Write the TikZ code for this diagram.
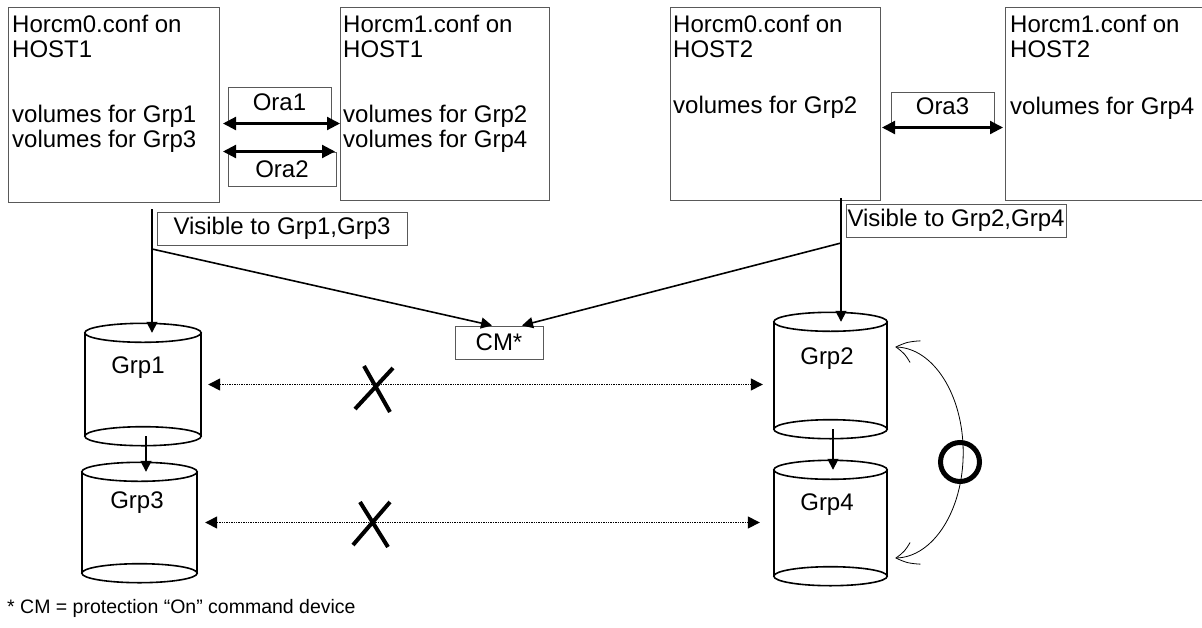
\documentclass[tikz,border=0pt]{standalone}
\usepackage{fontspec}
\setmainfont{Liberation Sans}
\usetikzlibrary{arrows.meta,calc,bending}
\newcommand\mfs{\fontsize{24pt}{25.5pt}\selectfont}
\begin{document}
\begin{tikzpicture}[x=1pt,y=-1pt,
 hostbox/.style={draw=black!65,line width=1pt,inner sep=0pt,anchor=north west,minimum width=211pt},
 hosttext/.style={anchor=north west,inner sep=0pt,align=left,font=\mfs},
 lblbox/.style={draw=black!65,line width=1pt,inner sep=0pt,font=\mfs},
 cylbody/.style={inner sep=0pt},
 cyl/.style={line width=1.6pt},
 grplbl/.style={anchor=base,font=\mfs},
 arr/.style={-{Triangle[length=11pt,width=11pt]},line width=1.6pt},
 biarr/.style={{Triangle[length=13pt,width=13pt]}-{Triangle[length=13pt,width=13pt]},line width=2.2pt},
 dotarr/.style={{Triangle[length=12pt,width=12pt]}-{Triangle[length=12pt,width=12pt]},line width=1.4pt,dash pattern=on 1.4pt off 1pt},
 cross/.style={line width=4pt},
 ring/.style={line width=5pt},
 swing/.style={{Straight Barb[bend,length=20pt,width=24pt]}-{Straight Barb[bend,length=20pt,width=24pt]},line width=0.8pt}
]
\useasboundingbox (0,0) rectangle (1202,627);

% host boxes
\node[hostbox,minimum height=195pt] (b1) at (8,7) {};
\node[hostbox,minimum height=193pt,minimum width=209pt] (b2) at (340,7) {};
\node[hostbox,minimum height=193pt,minimum width=210pt] (b3) at (670,7) {};
\node[hostbox,minimum height=193pt] (b4) at (1005,7) {};

\node[hosttext] (t1) at ($(b1.north west)+(4,7.5)$) {Horcm0.conf on\\HOST1\\[39pt]volumes for Grp1\\volumes for Grp3};
\node[hosttext] (t2) at ($(b2.north west)+(3,7.5)$) {Horcm1.conf on\\HOST1\\[39pt]volumes for Grp2\\volumes for Grp4};
\node[hosttext] (t3) at ($(b3.north west)+(3,7.5)$) {Horcm0.conf on\\HOST2\\[30pt]volumes for Grp2};
\node[hosttext] (t4) at ($(b4.north west)+(5,7.5)$) {Horcm1.conf on\\HOST2\\[31pt]volumes for Grp4};

% label boxes
\node[lblbox,minimum width=103pt,minimum height=36pt,text depth=6pt] (ora1) at (279.5,105) {Ora1};
\node[lblbox,minimum width=108pt,minimum height=34pt] (ora2) at (282,169) {Ora2};
\node[lblbox,minimum width=103pt,minimum height=35pt,text depth=6pt] (ora3) at (942.5,109.5) {Ora3};
\node[lblbox,minimum width=250pt,minimum height=33pt] (vis1) at (282,228.5) {Visible to Grp1,Grp3};
\node[lblbox,minimum width=220pt,minimum height=33pt] (vis2) at (956,220.5) {Visible to Grp2,Grp4};
\node[lblbox,minimum width=88pt,minimum height=33pt] (cm) at (499,342.5) {CM*};

% cylinders
\node[cylbody,minimum width=116pt,minimum height=103pt] (g1) at (143,384.5) {};
\node[cylbody,minimum width=113pt,minimum height=107pt] (g2) at (830.5,375.5) {};
\node[cylbody,minimum width=115pt,minimum height=101pt] (g3) at (139.5,522.5) {};
\node[cylbody,minimum width=113pt,minimum height=106pt] (g4) at (830.5,523) {};
\foreach \g in {g1,g2,g3,g4}{
  \draw[cyl] (\g.north west) -- (\g.south west) (\g.north east) -- (\g.south east);
  \draw[cyl] let \p1=(\g.east), \p2=(\g.center) in
    (\g.north) ellipse[x radius={\x1-\x2}, y radius=9.5pt]
    (\g.south) ellipse[x radius={\x1-\x2}, y radius=9.5pt];
}
\node[grplbl] (l1) at (138,373) {Grp1};
\node[grplbl] (l2) at (827,364) {Grp2};
\node[grplbl] (l3) at (137,508) {Grp3};
\node[grplbl] (l4) at (827,510) {Grp4};

% Ora arrows
\draw[biarr] ($(b1.east |- ora1.south)+(3,0)$) -- (b2.west |- ora1.south);
\draw[biarr] ($(b1.east |- ora2.north)+(3,0)$) -- ($(b2.west |- ora2.north)+(-5,0)$);
\draw[biarr] ($(b3.east |- ora3.south)+(1,0)$) -- ($(b4.west |- ora3.south)+(-2,0)$);

% visibility connectors
\coordinate (v1) at (152,209);
\coordinate (j1) at (152,249);
\coordinate (v2) at (841,198);
\coordinate (j2) at (841,243);
\draw[arr] (v1) -- (v1 |- g1.north);
\draw[arr] (j1) -- ($(cm.north)+(-7,0)$);
\draw[arr] (v2) -- (v2 |- g2.north);
\draw[arr] (j2) -- ($(cm.north)+(23,0)$);

% group arrows
\draw[arr] ($(g1.south)+(3,0)$) -- ($(g3.north)+(6.5,0)$);
\draw[arr] ($(g2.south)+(2.5,0)$) -- ($(g4.north)+(2.5,0)$);

% dotted pair links
\draw[dotarr] ($(g1.east)+(7,0)$) -- ($(g2.west |- g1.east)+(-11,0)$);
\draw[dotarr] ($(g3.east)+(8,0)$) -- ($(g4.west |- g3.east)+(-14,0)$);

% crosses
\draw[cross] (364,366) -- (390,412) (355,409) -- (393,368);
\draw[cross] (360,502) -- (388,547) (353,545) -- (390,502);

% allowed link
\draw[swing] ($(g2.east)+(8,-28.5)$) arc[start angle=-90,end angle=90,x radius=68,y radius=105.5];
\draw[ring] (960,462) circle[radius=19.5];

% footnote
\node[anchor=base west,inner sep=0pt,font=\fontsize{19.5pt}{22pt}\selectfont] (fn) at (7,613) {* CM = protection “On” command device};
\end{tikzpicture}
\end{document}
